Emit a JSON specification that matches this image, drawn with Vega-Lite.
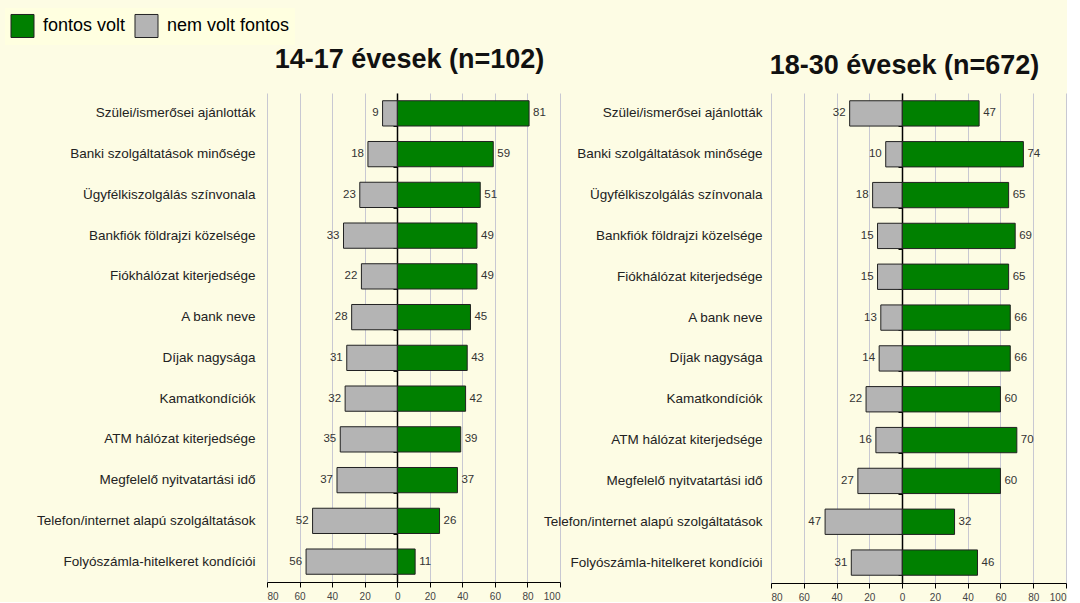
{
  "$schema": "https://vega.github.io/schema/vega-lite/v6.json",
  "background": "#fdfce4",
  "padding": {"left": 5, "top": 8, "right": 0, "bottom": 0},
  "bounds": "flush",
  "spacing": 211,
  "config": {
    "view": {"stroke": null},
    "font": "Liberation Sans",
    "axis": {"labelFont": "Liberation Sans", "titleFont": "Liberation Sans"}
  },
  "data": {"values": [
    {"group": "14-17", "item": "Szülei/ismerősei ajánlották", "cat": "fontos volt", "pct": 81},
    {"group": "14-17", "item": "Szülei/ismerősei ajánlották", "cat": "nem volt fontos", "pct": 9},
    {"group": "14-17", "item": "Banki szolgáltatások minősége", "cat": "fontos volt", "pct": 59},
    {"group": "14-17", "item": "Banki szolgáltatások minősége", "cat": "nem volt fontos", "pct": 18},
    {"group": "14-17", "item": "Ügyfélkiszolgálás színvonala", "cat": "fontos volt", "pct": 51},
    {"group": "14-17", "item": "Ügyfélkiszolgálás színvonala", "cat": "nem volt fontos", "pct": 23},
    {"group": "14-17", "item": "Bankfiók földrajzi közelsége", "cat": "fontos volt", "pct": 49},
    {"group": "14-17", "item": "Bankfiók földrajzi közelsége", "cat": "nem volt fontos", "pct": 33},
    {"group": "14-17", "item": "Fiókhálózat kiterjedsége", "cat": "fontos volt", "pct": 49},
    {"group": "14-17", "item": "Fiókhálózat kiterjedsége", "cat": "nem volt fontos", "pct": 22},
    {"group": "14-17", "item": "A bank neve", "cat": "fontos volt", "pct": 45},
    {"group": "14-17", "item": "A bank neve", "cat": "nem volt fontos", "pct": 28},
    {"group": "14-17", "item": "Díjak nagysága", "cat": "fontos volt", "pct": 43},
    {"group": "14-17", "item": "Díjak nagysága", "cat": "nem volt fontos", "pct": 31},
    {"group": "14-17", "item": "Kamatkondíciók", "cat": "fontos volt", "pct": 42},
    {"group": "14-17", "item": "Kamatkondíciók", "cat": "nem volt fontos", "pct": 32},
    {"group": "14-17", "item": "ATM hálózat kiterjedsége", "cat": "fontos volt", "pct": 39},
    {"group": "14-17", "item": "ATM hálózat kiterjedsége", "cat": "nem volt fontos", "pct": 35},
    {"group": "14-17", "item": "Megfelelő nyitvatartási idő", "cat": "fontos volt", "pct": 37},
    {"group": "14-17", "item": "Megfelelő nyitvatartási idő", "cat": "nem volt fontos", "pct": 37},
    {"group": "14-17", "item": "Telefon/internet alapú szolgáltatások", "cat": "fontos volt", "pct": 26},
    {"group": "14-17", "item": "Telefon/internet alapú szolgáltatások", "cat": "nem volt fontos", "pct": 52},
    {"group": "14-17", "item": "Folyószámla-hitelkeret kondíciói", "cat": "fontos volt", "pct": 11},
    {"group": "14-17", "item": "Folyószámla-hitelkeret kondíciói", "cat": "nem volt fontos", "pct": 56},
    {"group": "18-30", "item": "Szülei/ismerősei ajánlották", "cat": "fontos volt", "pct": 47},
    {"group": "18-30", "item": "Szülei/ismerősei ajánlották", "cat": "nem volt fontos", "pct": 32},
    {"group": "18-30", "item": "Banki szolgáltatások minősége", "cat": "fontos volt", "pct": 74},
    {"group": "18-30", "item": "Banki szolgáltatások minősége", "cat": "nem volt fontos", "pct": 10},
    {"group": "18-30", "item": "Ügyfélkiszolgálás színvonala", "cat": "fontos volt", "pct": 65},
    {"group": "18-30", "item": "Ügyfélkiszolgálás színvonala", "cat": "nem volt fontos", "pct": 18},
    {"group": "18-30", "item": "Bankfiók földrajzi közelsége", "cat": "fontos volt", "pct": 69},
    {"group": "18-30", "item": "Bankfiók földrajzi közelsége", "cat": "nem volt fontos", "pct": 15},
    {"group": "18-30", "item": "Fiókhálózat kiterjedsége", "cat": "fontos volt", "pct": 65},
    {"group": "18-30", "item": "Fiókhálózat kiterjedsége", "cat": "nem volt fontos", "pct": 15},
    {"group": "18-30", "item": "A bank neve", "cat": "fontos volt", "pct": 66},
    {"group": "18-30", "item": "A bank neve", "cat": "nem volt fontos", "pct": 13},
    {"group": "18-30", "item": "Díjak nagysága", "cat": "fontos volt", "pct": 66},
    {"group": "18-30", "item": "Díjak nagysága", "cat": "nem volt fontos", "pct": 14},
    {"group": "18-30", "item": "Kamatkondíciók", "cat": "fontos volt", "pct": 60},
    {"group": "18-30", "item": "Kamatkondíciók", "cat": "nem volt fontos", "pct": 22},
    {"group": "18-30", "item": "ATM hálózat kiterjedsége", "cat": "fontos volt", "pct": 70},
    {"group": "18-30", "item": "ATM hálózat kiterjedsége", "cat": "nem volt fontos", "pct": 16},
    {"group": "18-30", "item": "Megfelelő nyitvatartási idő", "cat": "fontos volt", "pct": 60},
    {"group": "18-30", "item": "Megfelelő nyitvatartási idő", "cat": "nem volt fontos", "pct": 27},
    {"group": "18-30", "item": "Telefon/internet alapú szolgáltatások", "cat": "fontos volt", "pct": 32},
    {"group": "18-30", "item": "Telefon/internet alapú szolgáltatások", "cat": "nem volt fontos", "pct": 47},
    {"group": "18-30", "item": "Folyószámla-hitelkeret kondíciói", "cat": "fontos volt", "pct": 46},
    {"group": "18-30", "item": "Folyószámla-hitelkeret kondíciói", "cat": "nem volt fontos", "pct": 31}
  ]},
  "hconcat": [
    {
      "width": 293,
      "height": 489,
      "title": {"text": "14-17 évesek (n=102)", "fontSize": 27, "fontWeight": "bold", "font": "Liberation Sans", "color": "#111", "anchor": "middle", "offset": 19, "dx": -4},
      "transform": [
        {"filter": "datum.group == '14-17'"},
        {"calculate": "datum.cat == 'nem volt fontos' ? -datum.pct : datum.pct", "as": "x"}
      ],
      "encoding": {
        "y": {"field": "item", "type": "nominal", "sort": null, "scale": {"paddingInner": 0.38, "paddingOuter": 0.19}},
        "x": {"field": "x", "type": "quantitative", "scale": {"domain": [-80, 100], "nice": false},
          "axis": {"title": null, "values": [-80, -60, -40, -20, 0, 20, 40, 60, 80, 100], "labelExpr": "abs(datum.value)", "labelFontSize": 10, "labelColor": "#444", "domainColor": "#000", "tickColor": "#000", "tickSize": 5, "labelPadding": 4, "grid": true, "gridColor": "#c8c8d2"}}
      },
      "resolve": {"axis": {"y": "independent"}},
      "layer": [
        {
          "mark": {"type": "bar", "stroke": "#222", "strokeWidth": 1},
          "encoding": {
            "y": {"field": "item", "type": "nominal", "sort": null, "axis": {"orient": "left", "title": null, "domain": false, "ticks": false, "labelFontSize": 13.5, "labelColor": "#222", "labelPadding": 12, "labelLimit": 300}},
            "color": {"field": "cat", "type": "nominal", "scale": {"domain": ["fontos volt", "nem volt fontos"], "range": ["#008000", "#b4b4b4"]},
              "legend": {"orient": "none", "direction": "horizontal", "legendX": -262, "legendY": -85, "title": null, "symbolType": "square", "symbolSize": 530, "symbolStrokeColor": "#555", "symbolStrokeWidth": 1, "labelFontSize": 18, "labelFont": "Liberation Sans", "labelColor": "#000", "fillColor": "#ffffe0", "padding": 5, "columnPadding": 6, "labelOffset": 8}}
          }
        },
        {
          "transform": [{"filter": "datum.cat == 'nem volt fontos'"}],
          "mark": {"type": "text", "align": "right", "dx": -4, "fontSize": 11.5, "color": "#333"},
          "encoding": {
            "y": {"field": "item", "type": "nominal", "sort": null, "axis": {"orient": "left", "offset": -130, "title": null, "labels": false, "domain": true, "domainColor": "#000", "domainWidth": 1.5, "ticks": true, "tickBand": "extent", "tickColor": "#000", "tickSize": 4}},
            "text": {"field": "pct", "type": "quantitative"}
          }
        },
        {
          "transform": [{"filter": "datum.cat == 'fontos volt'"}],
          "mark": {"type": "text", "align": "left", "dx": 4, "fontSize": 11.5, "color": "#333"},
          "encoding": {
            "y": {"field": "item", "type": "nominal", "sort": null, "axis": null},
            "text": {"field": "pct", "type": "quantitative"}
          }
        }
      ]
    },
    {
      "width": 295,
      "height": 490,
      "title": {"text": "18-30 évesek (n=672)", "fontSize": 27, "fontWeight": "bold", "font": "Liberation Sans", "color": "#111", "anchor": "middle", "offset": 13, "dx": -14},
      "transform": [
        {"filter": "datum.group == '18-30'"},
        {"calculate": "datum.cat == 'nem volt fontos' ? -datum.pct : datum.pct", "as": "x"}
      ],
      "encoding": {
        "y": {"field": "item", "type": "nominal", "sort": null, "scale": {"paddingInner": 0.38, "paddingOuter": 0.19}},
        "x": {"field": "x", "type": "quantitative", "scale": {"domain": [-80, 100], "nice": false},
          "axis": {"title": null, "values": [-80, -60, -40, -20, 0, 20, 40, 60, 80, 100], "labelExpr": "abs(datum.value)", "labelFontSize": 10, "labelColor": "#444", "domainColor": "#000", "tickColor": "#000", "tickSize": 5, "labelPadding": 4, "grid": true, "gridColor": "#c8c8d2"}}
      },
      "resolve": {"axis": {"y": "independent"}},
      "layer": [
        {
          "mark": {"type": "bar", "stroke": "#222", "strokeWidth": 1},
          "encoding": {
            "y": {"field": "item", "type": "nominal", "sort": null, "axis": {"orient": "left", "title": null, "domain": false, "ticks": false, "labelFontSize": 13.5, "labelColor": "#222", "labelPadding": 9, "labelLimit": 300}},
            "color": {"field": "cat", "type": "nominal", "scale": {"domain": ["fontos volt", "nem volt fontos"], "range": ["#008000", "#b4b4b4"]}}
          }
        },
        {
          "transform": [{"filter": "datum.cat == 'nem volt fontos'"}],
          "mark": {"type": "text", "align": "right", "dx": -4, "fontSize": 11.5, "color": "#333"},
          "encoding": {
            "y": {"field": "item", "type": "nominal", "sort": null, "axis": {"orient": "left", "offset": -131, "title": null, "labels": false, "domain": true, "domainColor": "#000", "domainWidth": 1.5, "ticks": true, "tickBand": "extent", "tickColor": "#000", "tickSize": 4}},
            "text": {"field": "pct", "type": "quantitative"}
          }
        },
        {
          "transform": [{"filter": "datum.cat == 'fontos volt'"}],
          "mark": {"type": "text", "align": "left", "dx": 4, "fontSize": 11.5, "color": "#333"},
          "encoding": {
            "y": {"field": "item", "type": "nominal", "sort": null, "axis": null},
            "text": {"field": "pct", "type": "quantitative"}
          }
        }
      ]
    }
  ]
}
